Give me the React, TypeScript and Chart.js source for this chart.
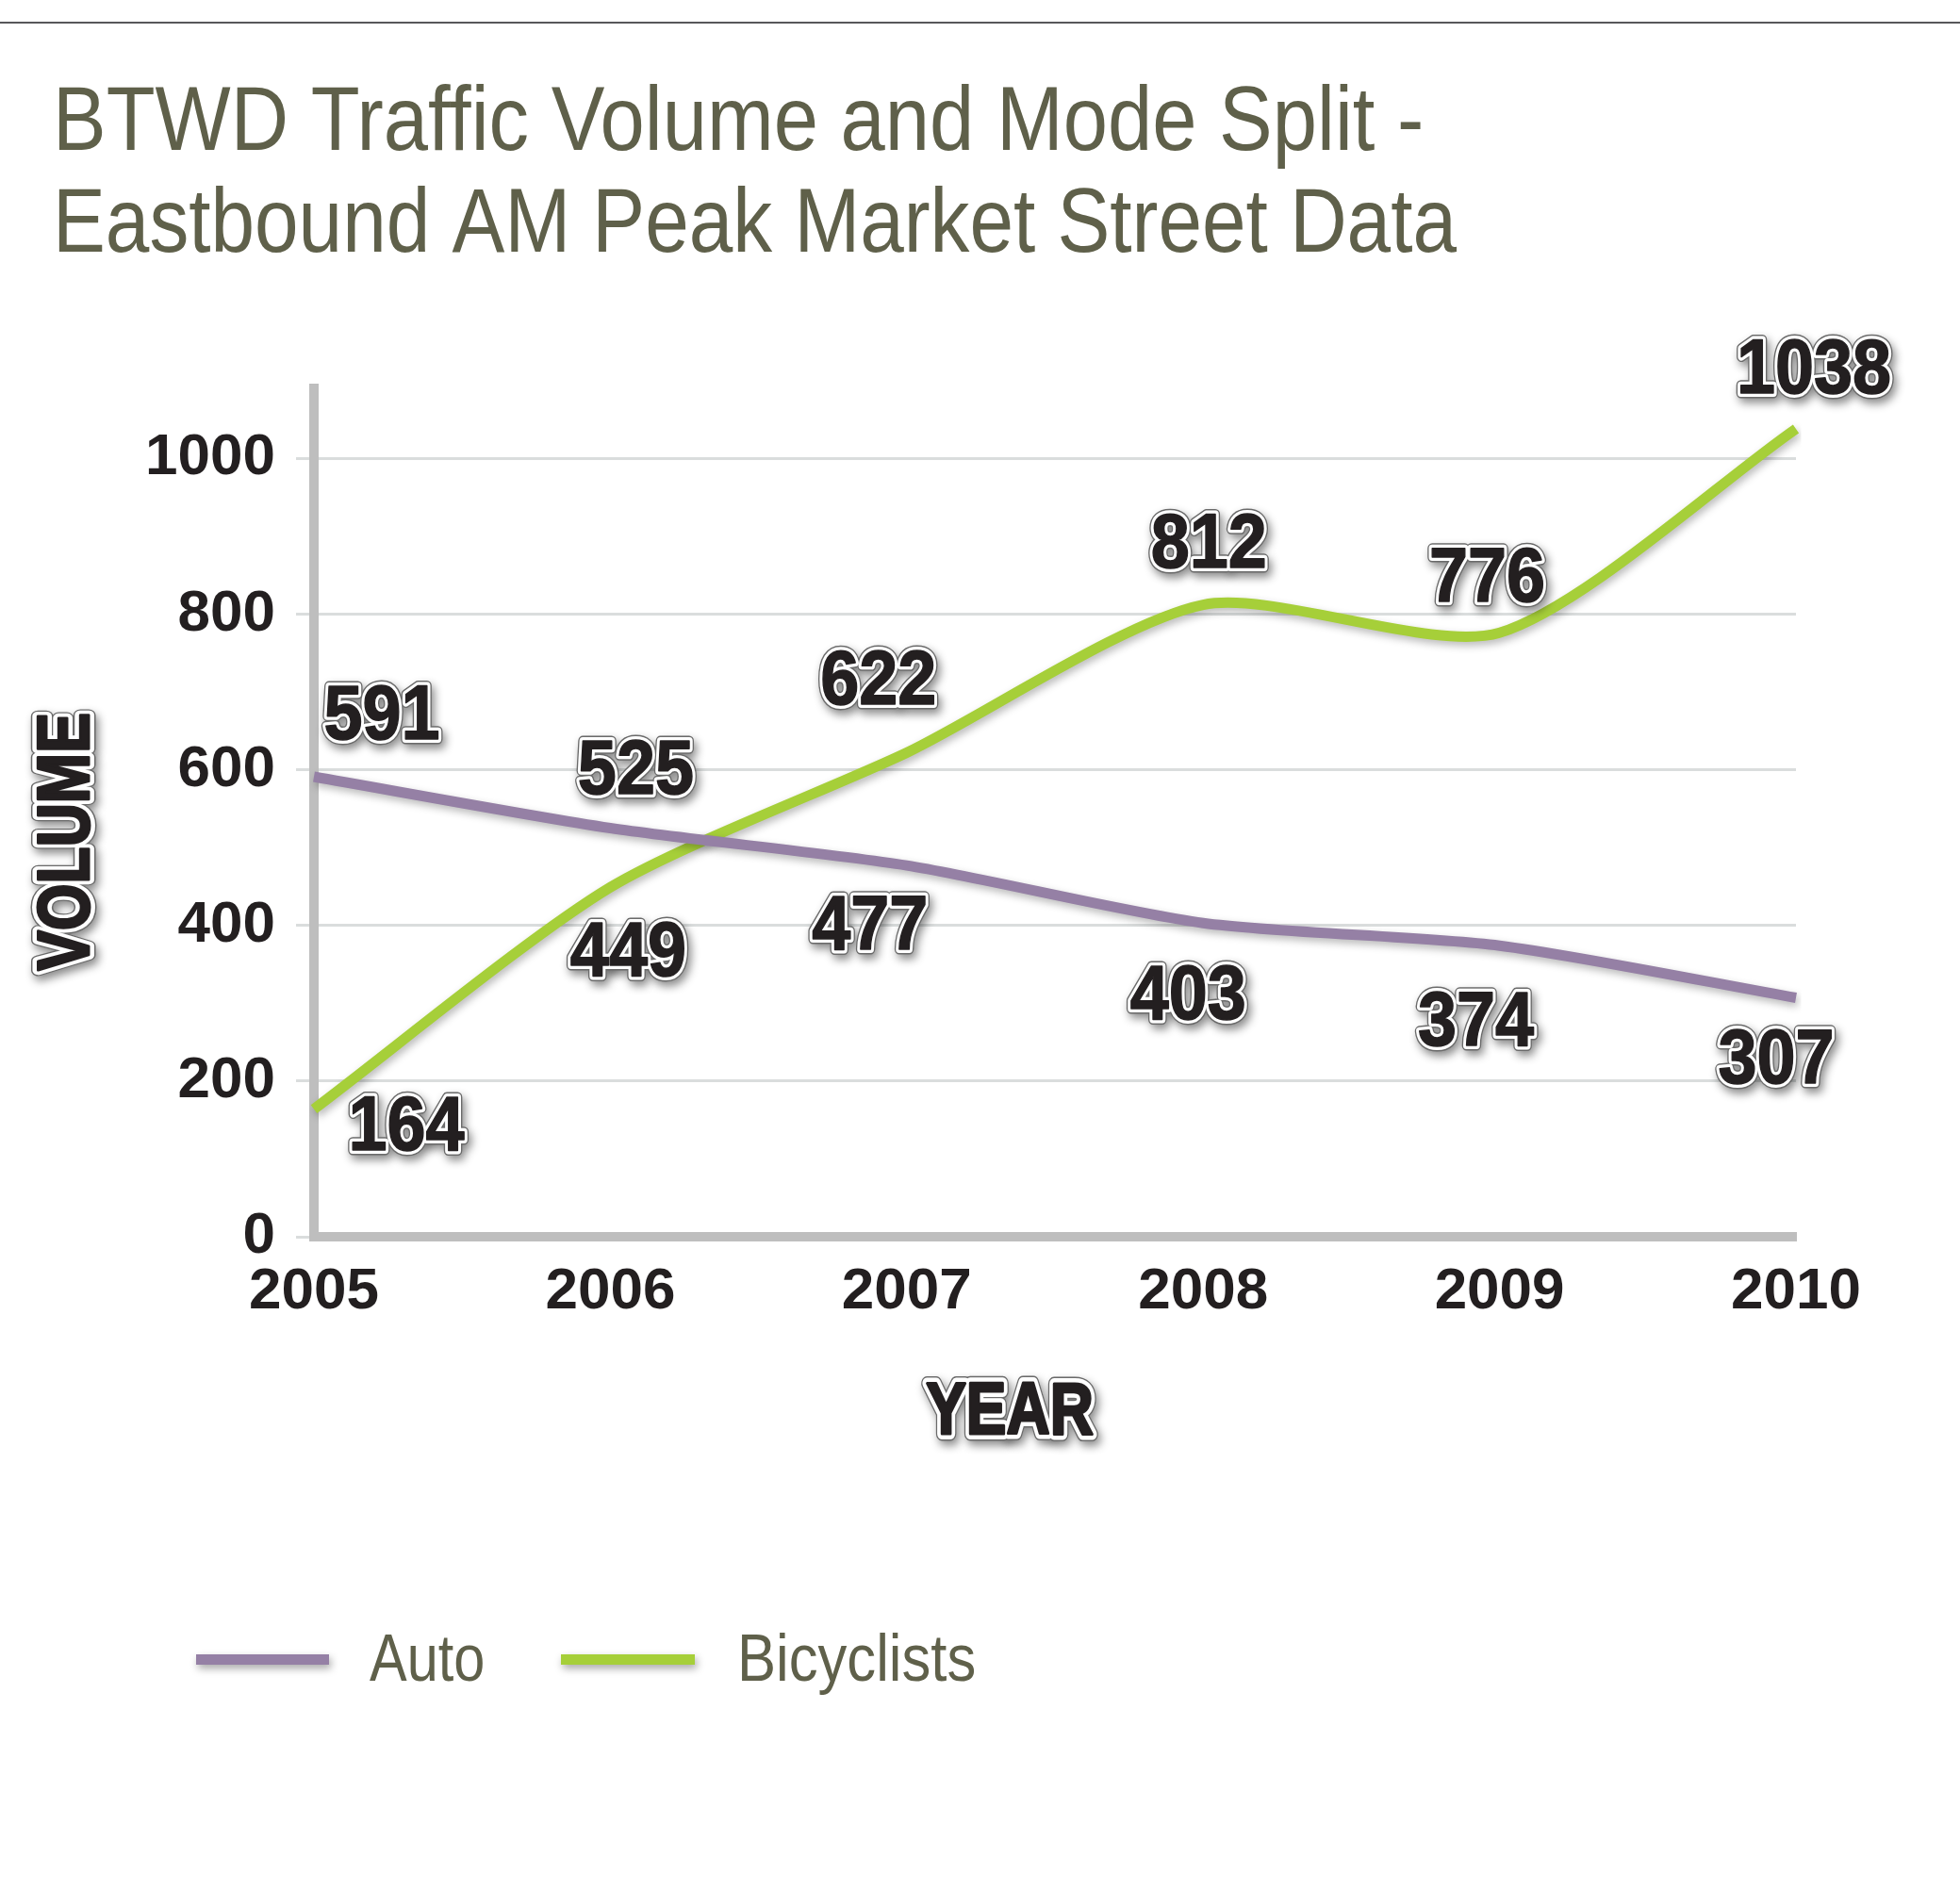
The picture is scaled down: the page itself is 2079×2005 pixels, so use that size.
import React, { useEffect, useRef } from 'react';
import { Chart, registerables } from 'chart.js';

Chart.register(...registerables);

// ---- data ----
const years = ['2005', '2006', '2007', '2008', '2009', '2010'];
const autoVolume = [591, 525, 477, 403, 374, 307];
const bicyclistVolume = [164, 449, 622, 812, 776, 1038];
const yTickValues = [0, 200, 400, 600, 800, 1000];
const seriesNames = ['Auto', 'Bicyclists'];
const titleLines = ['BTWD Traffic Volume and Mode Split -', 'Eastbound AM Peak Market Street Data'];
const xAxisTitle = 'YEAR';
const yAxisTitle = 'VOLUME';

// ---- label placement (pixel offsets from each point) ----
const autoLabelOffsets = [[72, -69], [27, -66], [-39, 59], [-16, 72], [-25, 76], [-21, 61]];
const bikeLabelOffsets = [[98, 14], [19, 64], [-30, -81], [6, -69], [-13, -63], [19, -67]];

// ---- styles ----
const AUTO_COLOR = '#9580a5';
const BIKE_COLOR = '#a6cf39';
const TEXT_OLIVE = '#5f604a';
const INK = '#231f20';
const AXIS_GRAY = '#bebebe';
const GRID_GRAY = '#dadddd';
const FAMILY = '"Liberation Sans", Arial, Helvetica, sans-serif';

function condensedText(ctx: CanvasRenderingContext2D, text: string, x: number, y: number, sx: number) {
  ctx.save();
  ctx.translate(x, y);
  ctx.scale(sx, 1);
  ctx.textAlign = 'left';
  ctx.textBaseline = 'alphabetic';
  ctx.fillText(text, 0, 0);
  ctx.restore();
}

function outlinedText(
  ctx: CanvasRenderingContext2D,
  text: string,
  cx: number,
  cy: number,
  size: number,
  sx: number,
  rotate = 0,
  heavy = false
) {
  ctx.save();
  ctx.translate(cx, cy);
  if (rotate) ctx.rotate(rotate);
  ctx.scale(sx, 1);
  ctx.font = `bold ${size}px ${FAMILY}`;
  ctx.textAlign = 'center';
  ctx.textBaseline = 'alphabetic';
  ctx.lineJoin = 'round';
  const by = (size * 0.716) / 2;
  const extra = heavy ? 4 : 0;
  ctx.shadowColor = 'rgba(0,0,0,0.45)';
  ctx.shadowBlur = 10;
  ctx.shadowOffsetX = 3;
  ctx.shadowOffsetY = 5;
  ctx.strokeStyle = '#6a6a6a';
  ctx.lineWidth = 11 + extra;
  ctx.strokeText(text, 0, by);
  ctx.shadowColor = 'rgba(0,0,0,0)';
  ctx.strokeStyle = '#ffffff';
  ctx.lineWidth = 8 + extra;
  ctx.strokeText(text, 0, by);
  ctx.fillStyle = INK;
  ctx.fillText(text, 0, by);
  ctx.strokeStyle = INK;
  ctx.lineWidth = heavy ? 3 : 1.5;
  ctx.strokeText(text, 0, by);
  ctx.restore();
}

const lineShadowPlugin = {
  id: 'lineShadow',
  beforeDatasetDraw(chart: any) {
    const c = chart.ctx;
    c.save();
    c.shadowColor = 'rgba(0,0,0,0.28)';
    c.shadowBlur = 8;
    c.shadowOffsetX = 2;
    c.shadowOffsetY = 4;
  },
  afterDatasetDraw(chart: any) {
    chart.ctx.restore();
  },
};

const decorPlugin = {
  id: 'decor',
  afterDatasetsDraw(chart: any) {
    const ctx: CanvasRenderingContext2D = chart.ctx;
    const offsets = [autoLabelOffsets, bikeLabelOffsets];
    chart.data.datasets.forEach((ds: any, di: number) => {
      const meta = chart.getDatasetMeta(di);
      meta.data.forEach((pt: any, i: number) => {
        const [dx, dy] = offsets[di][i];
        outlinedText(ctx, String(ds.data[i]), pt.x + dx, pt.y + dy, 82, 0.9);
      });
    });
  },
  afterDraw(chart: any) {
    const ctx: CanvasRenderingContext2D = chart.ctx;
    const area = chart.chartArea;
    ctx.save();
    // top rule
    ctx.fillStyle = '#58585a';
    ctx.fillRect(0, 23, chart.width, 2);
    // axis corner fill
    ctx.fillStyle = AXIS_GRAY;
    ctx.fillRect(area.left - 5, area.bottom - 5, 10, 10);
    // title
    ctx.fillStyle = TEXT_OLIVE;
    ctx.font = `300 96px ${FAMILY}`;
    condensedText(ctx, titleLines[0], 56, 159, 0.885);
    condensedText(ctx, titleLines[1], 56, 267, 0.872);
    // legend
    const legend = [
      { x: 208, w: 141, tx: 392 },
      { x: 595, w: 142, tx: 782 },
    ];
    chart.data.datasets.forEach((ds: any, di: number) => {
      const L = legend[di];
      ctx.save();
      ctx.shadowColor = 'rgba(0,0,0,0.35)';
      ctx.shadowBlur = 8;
      ctx.shadowOffsetX = 2;
      ctx.shadowOffsetY = 4;
      ctx.fillStyle = ds.borderColor;
      ctx.fillRect(L.x, 1755, L.w, 11);
      ctx.restore();
      ctx.fillStyle = TEXT_OLIVE;
      ctx.font = `70px ${FAMILY}`;
      condensedText(ctx, ds.label, L.tx, 1783, di === 0 ? 0.85 : 0.88);
    });
    // axis titles
    outlinedText(ctx, yAxisTitle, 66, 893, 78, 0.82, -Math.PI / 2, true);
    outlinedText(ctx, xAxisTitle, 1071, 1493, 78, 0.82, 0, true);
    ctx.restore();
  },
};

export default function App() {
  const ref = useRef<HTMLCanvasElement | null>(null);

  useEffect(() => {
    document.body.style.margin = '0';
    const canvas = ref.current;
    if (!canvas) return;
    const tickFont = { family: FAMILY, size: 62, weight: 'bold' as const };
    const chart = new Chart(canvas, {
      type: 'line',
      data: {
        labels: years,
        datasets: [
          {
            label: seriesNames[0],
            data: autoVolume,
            borderColor: AUTO_COLOR,
            backgroundColor: AUTO_COLOR,
            fill: false,
          },
          {
            label: seriesNames[1],
            data: bicyclistVolume,
            borderColor: BIKE_COLOR,
            backgroundColor: BIKE_COLOR,
            fill: false,
          },
        ],
      },
      options: {
        responsive: false,
        maintainAspectRatio: false,
        devicePixelRatio: 1,
        animation: false,
        layout: { padding: { left: 0, right: 174, top: 412, bottom: 0 } },
        elements: {
          point: { radius: 0, hoverRadius: 0 },
          line: { borderWidth: 11, tension: 0.25, borderCapStyle: 'butt', borderJoinStyle: 'round' },
        },
        plugins: {
          legend: { display: false },
          title: { display: false },
          tooltip: { enabled: false },
        },
        scales: {
          x: {
            type: 'category',
            offset: false,
            grid: { display: false },
            border: { display: true, color: AXIS_GRAY, width: 10 },
            ticks: { font: tickFont, color: INK, padding: 14, maxRotation: 0, minRotation: 0, autoSkip: false },
            afterFit(s: any) {
              s.height = 693;
              s.paddingLeft = 0;
              s.paddingRight = 0;
            },
          },
          y: {
            type: 'linear',
            min: 0,
            max: 1090,
            bounds: 'data',
            afterBuildTicks(s: any) {
              s.ticks = yTickValues.map((v) => ({ value: v }));
            },
            ticks: { font: tickFont, color: INK, padding: 22, callback: (v: any) => String(v) },
            grid: { color: GRID_GRAY, tickColor: GRID_GRAY, lineWidth: 3, tickLength: 19, drawTicks: true },
            border: { display: true, color: AXIS_GRAY, width: 10 },
            afterFit(s: any) {
              s.width = 333;
              s.paddingTop = 0;
              s.paddingBottom = 0;
            },
          },
        },
      },
      plugins: [lineShadowPlugin, decorPlugin],
    } as any);
    return () => chart.destroy();
  }, []);

  return (
    <div style={{ position: 'absolute', left: 0, top: 0, width: 2079, height: 2005, background: '#ffffff' }}>
      <canvas ref={ref} width={2079} height={2005} style={{ display: 'block', width: 2079, height: 2005 }} />
    </div>
  );
}
